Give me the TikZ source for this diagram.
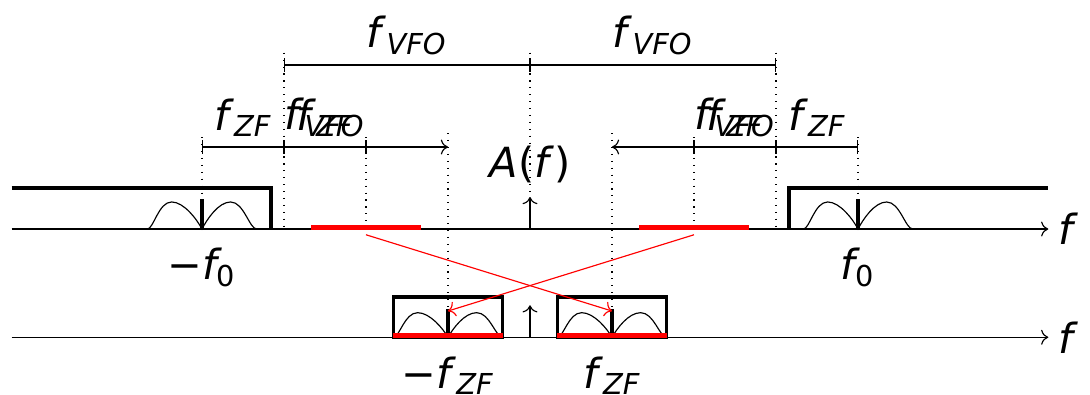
\documentclass[tikz,border=0pt]{standalone}
\usepackage{amsmath}
\usepackage{fontspec}
\setmainfont{DejaVu Sans}
\usetikzlibrary{arrows.meta}
\newcommand{\fsub}[1]{\textit{f}$_{\textit{#1}}$}

\begin{document}
\begin{tikzpicture}[every node/.style={font=\fontsize{14.4}{17}\selectfont},
 band/.style={line width=1.2pt}, stem/.style={line width=1.1pt}, guide/.style={dotted},
 img/.style={red,line width=1.5pt}, mix/.style={->,red}]
\useasboundingbox (-6.463,-2.012) rectangle (6.829,2.793);
% axes
\coordinate (uL) at (-6.32,0); \coordinate (uR) at (6.32,0);
\coordinate (lL) at (-6.32,-1.32); \coordinate (lR) at (6.32,-1.32);
% guides
\foreach \x/\t/\b in {-4/1.12/0,4/1.12/0,-3/2.15/0,3/2.15/0,-2/1.12/0,2/1.12/0,-1/1.17/-1.32,1/1.17/-1.32,0/2.15/0}
 \draw[guide] (\x,\t) -- (\x,\b);
% bands
\draw[band] (-6.32,0.5) -- (-3.16,0.5) -- (-3.16,0);
\draw[band] (3.16,0) -- (3.16,0.5) -- (6.32,0.5);
\draw[band] (-1.667,-1.32) rectangle (-0.333,-0.83);
\draw[band] (0.333,-1.32) rectangle (1.667,-0.83);
\foreach \c/\b/\h/\s in {-4/0/0.33/0.37,4/0/0.33/0.37,-1/-1.32/0.3/0.34,1/-1.32/0.3/0.34}{
 \draw ({\c-0.667},\b) .. controls ({\c-0.59},\b) and ({\c-0.53},{\b+\h}) .. ({\c-0.37},{\b+\h}) .. controls ({\c-0.22},{\b+\h}) and ({\c-0.06},{\b+0.35*\h}) .. (\c,\b)
  .. controls ({\c+0.06},{\b+0.35*\h}) and ({\c+0.2},{\b+\h}) .. ({\c+0.35},{\b+\h}) .. controls ({\c+0.51},{\b+\h}) and ({\c+0.58},\b) .. ({\c+0.667},\b);
 \draw[stem] (\c,\b) -- (\c,{\b+\s});
}
\draw[->] (uL) -- (uR) node[right] (fu) {\textit{f}};
\draw[->] (lL) -- (lR) node[right] (fl) {\textit{f}};
% images
\draw[img] (-2.667,0.02) -- (-1.333,0.02); \draw[img] (1.333,0.02) -- (2.667,0.02);
\draw[img] (-1.667,-1.30) -- (-0.333,-1.30); \draw[img] (0.333,-1.30) -- (1.667,-1.30);
\coordinate (mixL) at (-2,-0.07); \coordinate (mixR) at (2,-0.07);
\coordinate (zfL) at (-1,-1); \coordinate (zfR) at (1,-1);
\draw[mix] (mixL) -- (zfR); \draw[mix] (mixR) -- (zfL);
% A(f)
\draw[->] (0,0) -- (0,0.39); \draw[->] (0,-1.32) -- (0,-0.93);
\node[anchor=base] (Af) at (0,0.63) {\textit{A}(\textit{f})};
% dimensions
\draw[|-|] (-3,2) -- node[above] (vfoL) {\fsub{VFO}} (0,2);
\draw[|-|] (0,2) -- node[above] (vfoR) {\fsub{VFO}} (3,2);
\draw[|-|] (-4,1) -- node[above] (zfa) {\fsub{ZF}} (-3,1);
\draw[|-|] (-3,1) -- node[above] (zfb) {\fsub{ZF}} node[above] (vfob) {\fsub{VFO}} (-2,1);
\draw[|->] (-2,1) -- (-1,1);
\draw[<-|] (1,1) -- (2,1);
\draw[|-|] (2,1) -- node[above] (zfc) {\fsub{ZF}} node[above] (vfoc) {\fsub{VFO}} (3,1);
\draw[|-|] (3,1) -- node[above] (zfd) {\fsub{ZF}} (4,1);
% frequencies
\node[anchor=base] (mf0) at (-4,-0.62) {−\textit{f}\kern-0.12em$_{\text{0}}$};
\node[anchor=base] (pf0) at (4,-0.62) {\textit{f}\kern-0.12em$_{\text{0}}$};
\node[anchor=base] (mfzf) at (-1,-1.94) {−\fsub{ZF}};
\node[anchor=base] (pfzf) at (1,-1.94) {\fsub{ZF}};
\end{tikzpicture}
\end{document}
